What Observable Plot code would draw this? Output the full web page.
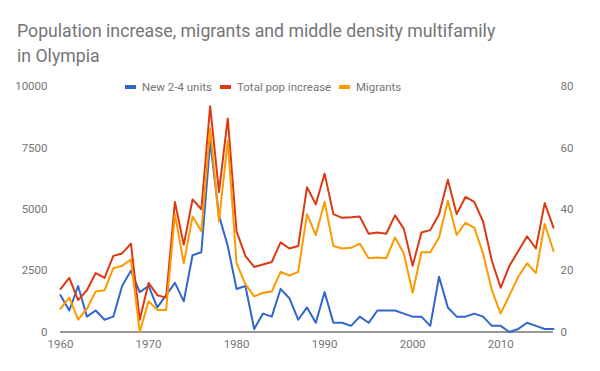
<!DOCTYPE html>
<html>
<head>
<meta charset="utf-8">
<script src="https://cdn.jsdelivr.net/npm/d3@7"></script>
<script src="https://cdn.jsdelivr.net/npm/@observablehq/plot@0.6"></script>
<style>
  html, body { margin: 0; padding: 0; background: #fff; }
  #wrap { position: relative; width: 600px; height: 371px; font-family: Roboto, sans-serif; }
  #title { position: absolute; left: 17px; top: 19px; width: 484px; font-size: 17.7px; line-height: 25px; color: #757575; }
  #legend { position: absolute; left: 0; top: 79px; width: 600px; height: 16px; font-size: 11.5px; color: #757575; }
  .item { position: absolute; top: 0; white-space: nowrap; line-height: 16px; }
  .sw { display: inline-block; width: 11px; height: 4px; vertical-align: middle; margin-right: 6px; position: relative; top: -1px; }
  #chart { position: absolute; left: 0; top: 0; }
</style>
</head>
<body>
<div id="wrap">
  <div id="chart"></div>
  <div id="title">Population increase, migrants and middle density multifamily in Olympia</div>
  <div id="legend"></div>
</div>
<script>
const years = d3.range(1960, 2017);
const seriesNames = ["New 2-4 units", "Total pop increase", "Migrants"];
const seriesColors = ["#3366cc", "#dc3912", "#ff9900"];
const newUnits = [12,7,15,5,7,4,5,15,20,13,15,8,12,16,10,25,26,62,38,28,14,15,1,6,5,14,11,4,
  8,3,13,3,3,2,5,3,7,7,7,6,5,5,2,18,8,5,5,6,5,2,2,0,1,3,2,1,1];
const totalPop = [1750,2200,1300,1700,2400,2200,3100,3200,3600,500,2000,1500,1400,5300,3550,5400,5000,9200,5700,8700,4100,3100,2650,2750,2850,3650,3400,3500,
  5900,5200,6450,4800,4650,4670,4700,4000,4050,4000,4750,4200,2700,4050,4150,4800,6200,4800,5500,5300,4500,2900,1800,2700,3300,3900,3400,5250,4250];
const migrants = [950,1400,500,950,1650,1700,2600,2700,2950,0,1250,900,900,4800,2800,4700,4100,8300,4500,7800,2800,1950,1450,1600,1650,2450,2300,2450,
  4800,3950,5300,3500,3400,3430,3600,3000,3030,3000,3850,3200,1600,3250,3250,3850,5350,3950,4450,4250,3200,1700,750,1500,2250,2800,2400,4400,3300];
const leftTicks = [0, 2500, 5000, 7500, 10000];
const rightTicks = [0, 20, 40, 60, 80];
const xTicks = [1960, 1970, 1980, 1990, 2000, 2010];
const ratio = 10000 / 80;

const data = [];
years.forEach((yr, i) => {
  data.push({year: yr, series: seriesNames[0], value: newUnits[i] * ratio});
  data.push({year: yr, series: seriesNames[1], value: totalPop[i]});
  data.push({year: yr, series: seriesNames[2], value: migrants[i]});
});

const plot = Plot.plot({
  width: 600,
  height: 371,
  marginTop: 86,
  marginBottom: 39.5,
  marginLeft: 60,
  marginRight: 47,
  style: {fontFamily: "Roboto, sans-serif", fontSize: "11.5px", color: "#757575", background: "transparent"},
  x: {domain: [1960, 2016]},
  y: {domain: [0, 10000]},
  color: {domain: seriesNames, range: seriesColors},
  marks: [
    Plot.axisX({ticks: xTicks, tickFormat: d => String(d), tickSize: 0, tickPadding: 8, label: null, fill: "#757575"}),
    Plot.axisY({ticks: leftTicks, tickFormat: d => String(d), tickSize: 0, tickPadding: 13, label: null, anchor: "left", fill: "#757575"}),
    Plot.axisY({ticks: leftTicks, tickFormat: d => String(d / ratio), tickSize: 0, tickPadding: 7, label: null, anchor: "right", fill: "#757575"}),
    Plot.ruleY([0], {stroke: "#333", strokeWidth: 1.2}),
    Plot.lineY(data, {x: "year", y: "value", stroke: "series", strokeWidth: 2, z: "series"})
  ]
});
document.getElementById("chart").appendChild(plot);

const legend = document.getElementById("legend");
const lefts = [125, 220, 339];
seriesNames.forEach((name, i) => {
  const it = document.createElement("div");
  it.className = "item";
  it.style.left = lefts[i] + "px";
  it.innerHTML = `<span class="sw" style="background:${seriesColors[i]}"></span>${name}`;
  legend.appendChild(it);
});
</script>
</body>
</html>
